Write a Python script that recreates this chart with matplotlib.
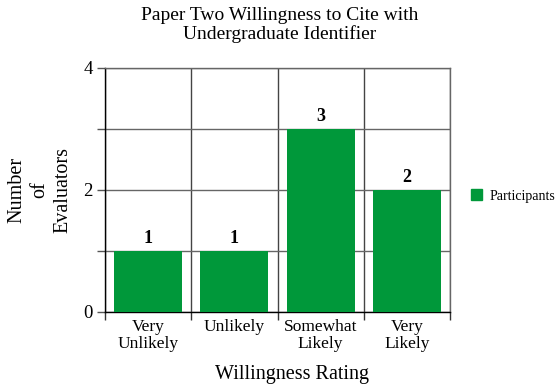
import matplotlib
matplotlib.use("Agg")
import matplotlib.pyplot as plt
from matplotlib.patches import Patch

categories = ["Very\nUnlikely", "Unlikely", "Somewhat\nLikely", "Very\nLikely"]
values = [1, 1, 3, 2]
series_name = "Participants"
title = "Paper Two Willingness to Cite with\nUndergraduate Identifier"
xlabel = "Willingness Rating"
ylabel = "Number\nof\nEvaluators"

plt.rcParams['font.family'] = ['Liberation Serif', 'DejaVu Serif']
green = "#00983A"

fig = plt.figure(figsize=(5.57, 3.85), dpi=100)
ax = fig.add_axes([105/557, 1-312/385, 345/557, 244/385])

x = list(range(len(categories)))
ax.bar(x, values, width=0.79, color=green, zorder=3)
for xi, v in zip(x, values):
    ax.text(xi, v + 0.06, str(v), ha='center', va='bottom', fontsize=13, fontweight='bold', zorder=4)

ax.set_xlim(-0.5, len(categories) - 0.5)
ax.set_ylim(0, 4)
ax.set_yticks([0, 1, 2, 3, 4])
ax.set_yticklabels(["0", "", "2", "", "4"], fontsize=13.5)
ax.set_xticks(x)
ax.set_xticklabels(categories, fontsize=12.5, linespacing=1.1)
ax.tick_params(axis='x', length=0, pad=5)
ax.tick_params(axis='y', length=6, color='#555555', width=1, pad=3)
ax.set_xticks([i - 0.5 for i in range(len(categories) + 1)], minor=True)
ax.tick_params(axis='x', which='minor', length=6, color='#333333', width=1)
ax.grid(True, axis='x', which='minor', color='#444444', linewidth=1, zorder=1)
ax.grid(True, axis='y', which='major', color='#666666', linewidth=1, zorder=1)

for s in ['left', 'bottom']:
    ax.spines[s].set_color('black')
    ax.spines[s].set_linewidth(1)
for s in ['right', 'top']:
    ax.spines[s].set_color('#666666')
    ax.spines[s].set_linewidth(1)

fig.text(280/557, 1-25/385, title, ha='center', va='center', fontsize=14, linespacing=1.15)
fig.text(292/557, 1-374/385, xlabel, ha='center', va='center', fontsize=14.5)
fig.text(40/557, 1-190/385, ylabel, ha='center', va='center', rotation=90,
         fontsize=14.5, linespacing=1.3, multialignment='center')

fig.legend(handles=[Patch(color=green, label=series_name)], loc='center left',
           bbox_to_anchor=(458/557, 1-196/385), frameon=False, fontsize=10,
           handlelength=0.8, handleheight=0.8, handletextpad=0.6)

fig.savefig("out.png", dpi=100)
